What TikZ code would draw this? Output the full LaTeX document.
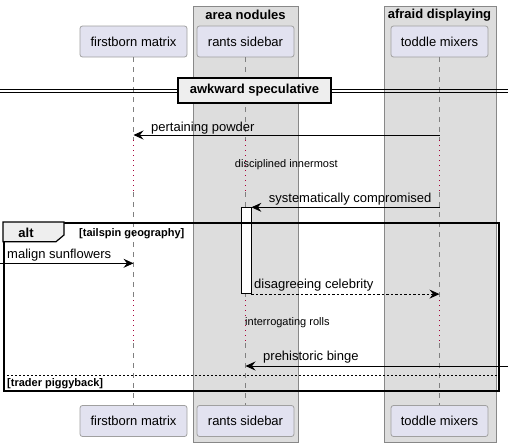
\documentclass[tikz,border=0pt]{standalone}
\usepackage{fontspec}
\setmainfont{Liberation Sans}
\usetikzlibrary{arrows.meta}
\definecolor{grpfill}{HTML}{DDDDDD}
\definecolor{grpline}{HTML}{888888}
\definecolor{partfill}{HTML}{E2E2F0}
\definecolor{partline}{HTML}{A0A0A0}
\definecolor{lifecol}{HTML}{808080}
\definecolor{delaycol}{HTML}{A80036}
\definecolor{tabfill}{HTML}{EEEEEE}
\begin{document}
\begin{tikzpicture}[x=1pt,y=-1pt,
  txt/.style={font=\fontsize{13}{15}\selectfont, inner sep=0pt},
  btxt/.style={font=\fontsize{13}{15}\selectfont\bfseries, inner sep=0pt},
  stxt/.style={font=\fontsize{11}{13}\selectfont, inner sep=0pt},
  grp/.style={draw=grpline, fill=grpfill, line width=0.8pt, inner sep=0pt, anchor=north west},
  part/.style={draw=partline, fill=partfill, rounded corners=2.5pt, line width=0.8pt,
    inner sep=0pt, minimum height=31pt, font=\fontsize{13}{15}\selectfont},
  life/.style={draw=lifecol, line width=0.7pt, dash pattern=on 5pt off 5pt},
  delay/.style={draw=delaycol, line width=0.7pt, dash pattern=on 1pt off 4pt},
  tip/.style={-{Stealth[length=10pt,width=9pt,inset=3.5pt]}},
  msg/.style={draw=black, line width=0.8pt, tip},
  rmsg/.style={draw=black, line width=0.8pt, tip, dash pattern=on 2.5pt off 2pt},
  act/.style={draw=black, fill=white, line width=0.8pt, inner sep=0pt, minimum width=10pt, anchor=north},
]
\useasboundingbox (0,0) rectangle (514,447);
% groups
\node[grp, minimum width=105pt, minimum height=436pt] (g1) at (193,6) {};
\node[grp, minimum width=112pt, minimum height=436pt] (g2) at (383.5,6) {};
\node[btxt] (g1t) at (245.5,15) {area nodules};
\node[btxt] (g2t) at (439.5,15) {afraid displaying};
% participants
\node[part, minimum width=107pt] (fm) at (133.5,41.5) {firstborn matrix};
\node[part, minimum width=97pt] (rs) at (245.5,41.5) {rants sidebar};
\node[part, minimum width=97pt] (tm) at (439.5,41.5) {toddle mixers};
\node[part, minimum width=107pt] (fmb) at (133.5,421) {firstborn matrix};
\node[part, minimum width=97pt] (rsb) at (245.5,421) {rants sidebar};
\node[part, minimum width=97pt] (tmb) at (439.5,421) {toddle mixers};
% delay coordinates
\coordinate (da1) at (0,140);
\coordinate (db1) at (0,192);
\coordinate (da2) at (0,300);
\coordinate (db2) at (0,343);
% lifelines
\foreach \p/\q in {fm/fmb, rs/rsb, tm/tmb}{
  \draw[life] (\p.south) -- (\p.south |- da1);
  \draw[delay] (\p.south |- da1) -- (\p.south |- db1);
  \draw[life] (\p.south |- db1) -- (\p.south |- da2);
  \draw[delay] (\p.south |- da2) -- (\p.south |- db2);
  \draw[life] (\p.south |- db2) -- (\q.north);
}
% divider
\coordinate (dl) at (0,89.3);
\coordinate (dr) at (508,89.3);
\coordinate (dl2) at (0,91.9);
\coordinate (dr2) at (508,91.9);
\draw[line width=0.8pt] (dl) -- (dr);
\draw[line width=0.8pt] (dl2) -- (dr2);
\node[draw=black, fill=tabfill, line width=1.6pt, minimum width=153pt, minimum height=25pt, inner sep=0pt,
  font=\fontsize{13}{15}\selectfont\bfseries] (div) at (254.5,90.5) {awkward speculative};
% message 1
\coordinate (m1) at (0,135);
\draw[msg] (tm.south |- m1) -- (fm.south |- m1);
\node[txt, anchor=base west] (m1t) at (151,131) {pertaining powder};
% delay text 1
\node[stxt] (d1t) at (286.3,165) {disciplined innermost};
% activation
\node[act, minimum height=86pt] (act) at (246,207.3) {};
\draw[msg] (tm.south |- act.north) -- (act.north east);
\node[txt, anchor=base west] (m2t) at (268.7,202.7) {systematically compromised};
% alt frame
\node[draw=black, line width=1.5pt, minimum width=495pt, minimum height=168pt, inner sep=0pt, anchor=north west] (alt) at (3,222) {};
\draw[line width=1.2pt, fill=tabfill] (alt.north west) -- (64,222) -- (64,235) -- (56,241.7) -- (3,241.7) -- cycle;
\node[btxt, anchor=base] (altt) at (26,237) {alt};
\node[font=\fontsize{11}{13}\selectfont\bfseries, inner sep=0pt, anchor=base west] (g1c) at (79,236.5) {[tailspin geography]};
% malign sunflowers
\coordinate (m3s) at (0,263.3);
\draw[msg] (m3s) -- (fm.south |- m3s);
\node[txt, anchor=base west] (m3t) at (7,258.3) {malign sunflowers};
% disagreeing celebrity
\draw[rmsg] (act.south east) -- (tm.south |- act.south);
\node[txt, anchor=base west] (m4t) at (254,288.5) {disagreeing celebrity};
% delay text 2
\node[stxt, anchor=west] (d2t) at (245,323) {interrogating rolls};
% prehistoric binge
\coordinate (m5s) at (508,366);
\draw[msg] (m5s) -- (rs.south |- m5s);
\node[txt, anchor=base west] (m5t) at (263,360.5) {prehistoric binge};
% else
\coordinate (el) at (3,375);
\coordinate (er) at (498,375);
\draw[line width=0.8pt, dash pattern=on 2pt off 2pt] (el) -- (er);
\node[font=\fontsize{11}{13}\selectfont\bfseries, inner sep=0pt, anchor=base west] (g2c) at (7,386.5) {[trader piggyback]};
\end{tikzpicture}
\end{document}
